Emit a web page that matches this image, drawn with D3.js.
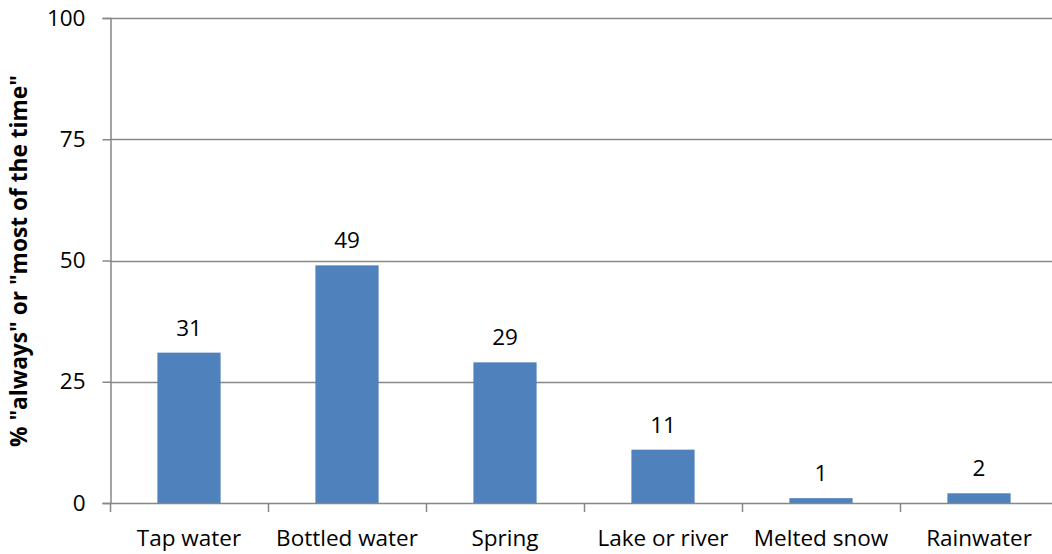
<!DOCTYPE html>
<html><head><meta charset="utf-8">
<script src="https://cdn.jsdelivr.net/npm/d3@7"></script>
<style>body{margin:0;background:#fff}svg{display:block}text{font-family:"Open Sans",sans-serif}</style>
</head><body><svg id="c" width="1052" height="554"></svg>
<script>
const categories = ["Tap water","Bottled water","Spring","Lake or river","Melted snow","Rainwater"];
const values = [31,49,29,11,1,2];
const yTicks = [0,25,50,75,100];
const yLabel = '% "always" or "most of the time"';

(function(){
const svg = d3.select("#c");
const mL = 110, mR = 1058, mT = 18, mB = 503;
const x = d3.scaleBand().domain(categories).range([mL,mR]).paddingInner(0.6).paddingOuter(0.3);
const xb = d3.scaleBand().domain(categories).range([mL,mR]);
const y = d3.scaleLinear().domain([0,100]).range([mB,mT]);
const ff = "'Open Sans',sans-serif";
const fs = 22.5;

svg.append("g").selectAll("line").data(yTicks.filter(d=>d>0)).join("line")
  .attr("x1",mL).attr("x2",mR).attr("y1",d=>Math.round(y(d))+0.5).attr("y2",d=>Math.round(y(d))+0.5)
  .attr("stroke","#878787").attr("stroke-width",1.5);

svg.append("g").selectAll("rect").data(values).join("rect")
  .attr("x",(d,i)=>x(categories[i])).attr("width",x.bandwidth())
  .attr("y",d=>y(d)).attr("height",d=>mB-y(d)).attr("fill","#4F81BD");

svg.append("g").selectAll("text").data(values).join("text")
  .attr("x",(d,i)=>x(categories[i])+x.bandwidth()/2).attr("y",d=>y(d)-17)
  .attr("text-anchor","middle").attr("font-size",fs).attr("fill","#000").text(d=>d);

const ya = svg.append("g").attr("transform",`translate(${mL+0.5},0)`)
  .call(d3.axisLeft(y).tickValues(yTicks).tickSize(8).tickPadding(17));
ya.select(".domain").attr("stroke","#878787").attr("stroke-width",1.5);
ya.selectAll(".tick line").attr("stroke","#878787").attr("stroke-width",1.5);
ya.selectAll("text").attr("font-size",fs).attr("fill","#000").style("font-family",ff);

const xa = svg.append("g").attr("transform",`translate(0,${mB+0.5})`)
  .call(d3.axisBottom(xb).tickSize(0));
xa.select(".domain").attr("d",`M${mL},0H${mR}`).attr("stroke","#878787").attr("stroke-width",1.5);
xa.selectAll("text").attr("y",42).attr("dy",null).attr("font-size",fs).attr("fill","#000").style("font-family",ff);
svg.append("g").selectAll("line").data(d3.range(categories.length+1)).join("line")
  .attr("x1",i=>mL+i*xb.bandwidth()+0.5).attr("x2",i=>mL+i*xb.bandwidth()+0.5)
  .attr("y1",mB).attr("y2",mB+9).attr("stroke","#878787").attr("stroke-width",1.5);

svg.append("text").attr("transform",`translate(27,261) rotate(-90)`)
  .attr("text-anchor","middle").attr("font-size",22.7).attr("font-weight","bold").attr("fill","#000").text(yLabel);
})();
</script></body></html>
